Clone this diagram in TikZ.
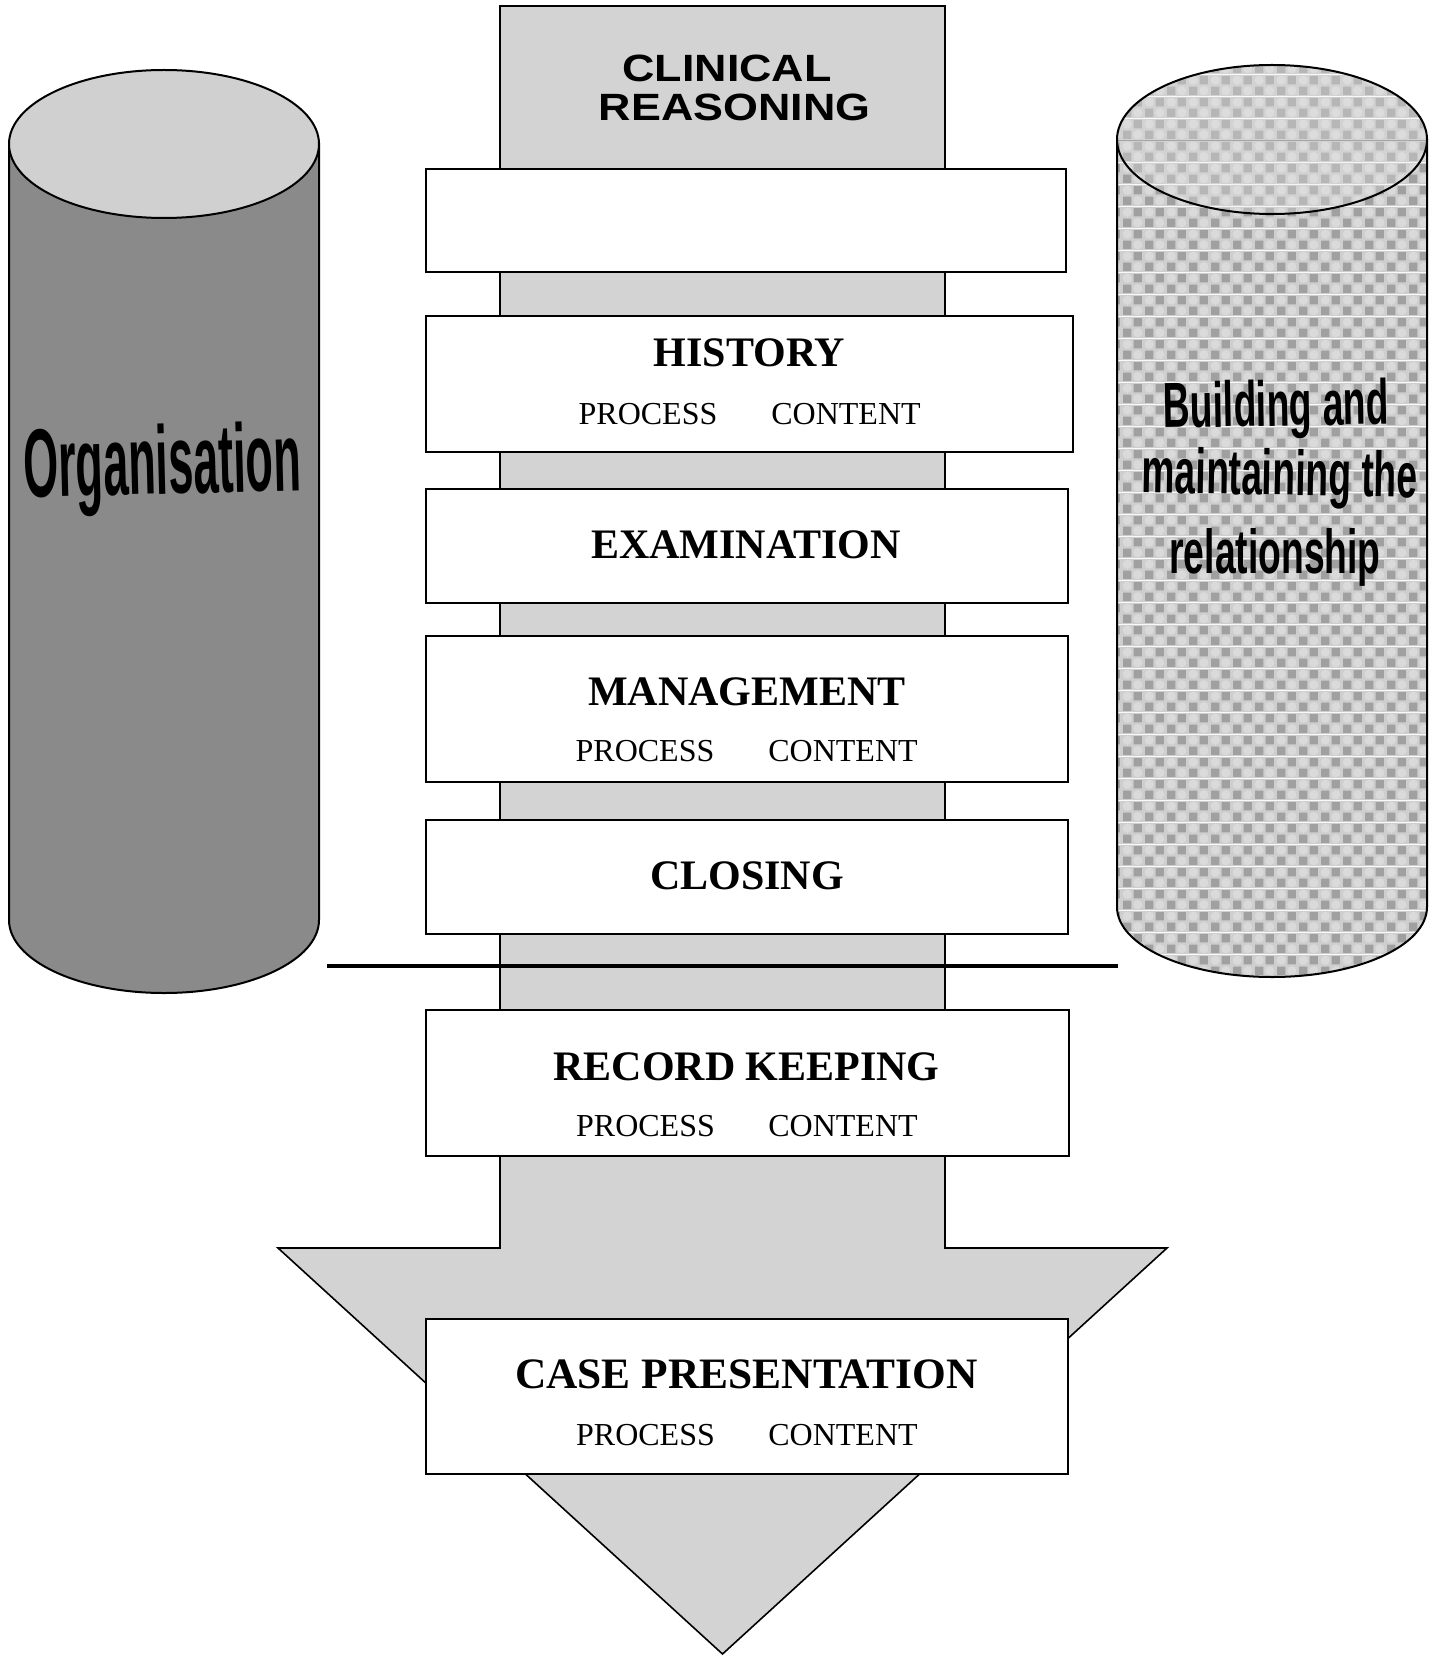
\documentclass[tikz,border=0pt]{standalone}
\usepackage{fontspec}
\setmainfont{Liberation Serif}
\newfontfamily\headsans{Liberation Sans}
\usetikzlibrary{patterns}

\definecolor{shaftgray}{HTML}{D3D3D3}
\definecolor{orgbody}{HTML}{8A8A8A}
\definecolor{orgtop}{HTML}{D0D0D0}
\definecolor{rcL}{HTML}{CECECE}
\definecolor{rcD}{HTML}{A0A0A0}
\definecolor{rcC}{HTML}{DADADA}
\definecolor{rtL}{HTML}{D2D2D2}
\definecolor{rtD}{HTML}{B6B6B6}
\definecolor{rtC}{HTML}{DCDCDC}

% checkered texture of the relationship pillar
\pgfdeclarepatterninherentlycolored{relcheck}
  {\pgfpointorigin}{\pgfqpoint{11pt}{11pt}}{\pgfqpoint{11pt}{11pt}}{%
  \pgfsetfillcolor{rcL}%
  \pgfpathrectangle{\pgfpointorigin}{\pgfqpoint{11pt}{11pt}}\pgfusepath{fill}%
  \pgfsetfillcolor{rcD}%
  \pgfpathrectangle{\pgfqpoint{0.6pt}{0.6pt}}{\pgfqpoint{4.3pt}{4.3pt}}\pgfusepath{fill}%
  \pgfpathrectangle{\pgfqpoint{6.1pt}{6.1pt}}{\pgfqpoint{4.3pt}{4.3pt}}\pgfusepath{fill}%
  \pgfsetfillcolor{rcC}%
  \pgfpathcircle{\pgfqpoint{8.25pt}{2.75pt}}{2.4pt}\pgfusepath{fill}%
  \pgfpathcircle{\pgfqpoint{2.75pt}{8.25pt}}{2.4pt}\pgfusepath{fill}%
}
\pgfdeclarepatterninherentlycolored{relchecktop}
  {\pgfpointorigin}{\pgfqpoint{11pt}{11pt}}{\pgfqpoint{11pt}{11pt}}{%
  \pgfsetfillcolor{rtL}%
  \pgfpathrectangle{\pgfpointorigin}{\pgfqpoint{11pt}{11pt}}\pgfusepath{fill}%
  \pgfsetfillcolor{rtD}%
  \pgfpathrectangle{\pgfqpoint{0.6pt}{0.6pt}}{\pgfqpoint{4.3pt}{4.3pt}}\pgfusepath{fill}%
  \pgfpathrectangle{\pgfqpoint{6.1pt}{6.1pt}}{\pgfqpoint{4.3pt}{4.3pt}}\pgfusepath{fill}%
  \pgfsetfillcolor{rtC}%
  \pgfpathcircle{\pgfqpoint{8.25pt}{2.75pt}}{2.4pt}\pgfusepath{fill}%
  \pgfpathcircle{\pgfqpoint{2.75pt}{8.25pt}}{2.4pt}\pgfusepath{fill}%
}

\begin{document}
\begin{tikzpicture}[x=0.5pt,y=-0.5pt,
  outline/.style={draw=black,line width=1pt},
  stage/.style={rectangle,draw=black,line width=1pt,fill=white,inner sep=0pt},
  title/.style={anchor=base,inner sep=0pt,font=\fontsize{21pt}{24pt}\selectfont\bfseries},
  sub/.style={anchor=base,inner sep=0pt,font=\fontsize{16pt}{19pt}\selectfont},
  pillar/.style={anchor=base,inner sep=0pt,font=\headsans\bfseries}]
\useasboundingbox (0,0) rectangle (1436,1658);

% left pillar: Organisation
\path[outline,fill=orgbody] (9,144) -- (9,920)
  arc[start angle=180,end angle=0,x radius=155,y radius=73] -- (319,144) -- cycle;
\path[outline,fill=orgtop] (164,144) ellipse[x radius=155,y radius=74];
\node[pillar,rotate=1.5] (org) at (163,494)
  {\fontsize{45pt}{50pt}\selectfont\scalebox{0.5}[1.08]{Organisation}};

% right pillar: the relationship
\path[outline,pattern=relcheck] (1117,139.5) -- (1117,907)
  arc[start angle=180,end angle=0,x radius=155,y radius=70] -- (1427,139.5) -- cycle;
\path[outline,pattern=relchecktop] (1272,139.5) ellipse[x radius=155,y radius=74.5];
\node[pillar,rotate=1] (rel1) at (1276.5,426)
  {\fontsize{27pt}{30pt}\selectfont\scalebox{0.69}[1.18]{Building and}};
\node[pillar,rotate=-1] (rel2) at (1279.5,495)
  {\fontsize{27pt}{30pt}\selectfont\scalebox{0.69}[1.18]{maintaining the}};
\node[pillar] (rel3) at (1275,573)
  {\fontsize{27pt}{30pt}\selectfont\scalebox{0.69}[1.15]{relationship}};

% central arrow
\path[draw=black,line width=0.8pt,fill=shaftgray] (500,6) -- (945,6) -- (945,1248)
  -- (1167,1248) -- (722.5,1654) -- (278,1248) -- (500,1248) -- cycle;
\node[pillar] (cr1) at (727,82)
  {\fontsize{19pt}{22pt}\selectfont\scalebox{1.18}[1]{CLINICAL}};
\node[pillar] (cr2) at (734.5,121)
  {\fontsize{19pt}{22pt}\selectfont\scalebox{1.18}[1]{REASONING}};

% divider between consultation and follow-up
\coordinate (divL) at (327,966);
\coordinate (divR) at (1118,966);
\draw[line width=2pt] (divL) -- (divR);

% stages
\node[stage,minimum width=320pt,minimum height=51.5pt] (opening) at (746,220.5) {};

\node[stage,minimum width=323.5pt,minimum height=68pt] (history) at (749.5,384) {};
\node[title] (history-t) at (749.5,366) {HISTORY};
\node[sub] (history-p) at (648,424) {PROCESS};
\node[sub] (history-c) at (846,424) {CONTENT};

\node[stage,minimum width=321pt,minimum height=57pt] (exam) at (747,546) {};
\node[title] (exam-t) at (746,558) {EXAMINATION};

\node[stage,minimum width=321pt,minimum height=73pt] (mgmt) at (747,709) {};
\node[title] (mgmt-t) at (747,705) {MANAGEMENT};
\node[sub] (mgmt-p) at (645,761) {PROCESS};
\node[sub] (mgmt-c) at (843,761) {CONTENT};

\node[stage,minimum width=321pt,minimum height=57pt] (closing) at (747,877) {};
\node[title] (closing-t) at (747,889) {CLOSING};

\node[stage,minimum width=321.5pt,minimum height=73pt] (record) at (747.5,1083) {};
\node[title] (record-t) at (746.5,1080) {RECORD KEEPING};
\node[sub] (record-p) at (645.5,1136) {PROCESS};
\node[sub] (record-c) at (843,1136) {CONTENT};

\node[stage,minimum width=321pt,minimum height=77.5pt] (case) at (747,1396.5) {};
\node[title,font=\fontsize{21.7pt}{25pt}\selectfont\bfseries] (case-t) at (746.5,1388) {CASE PRESENTATION};
\node[sub] (case-p) at (645.5,1445) {PROCESS};
\node[sub] (case-c) at (843,1445) {CONTENT};
\end{tikzpicture}
\end{document}
